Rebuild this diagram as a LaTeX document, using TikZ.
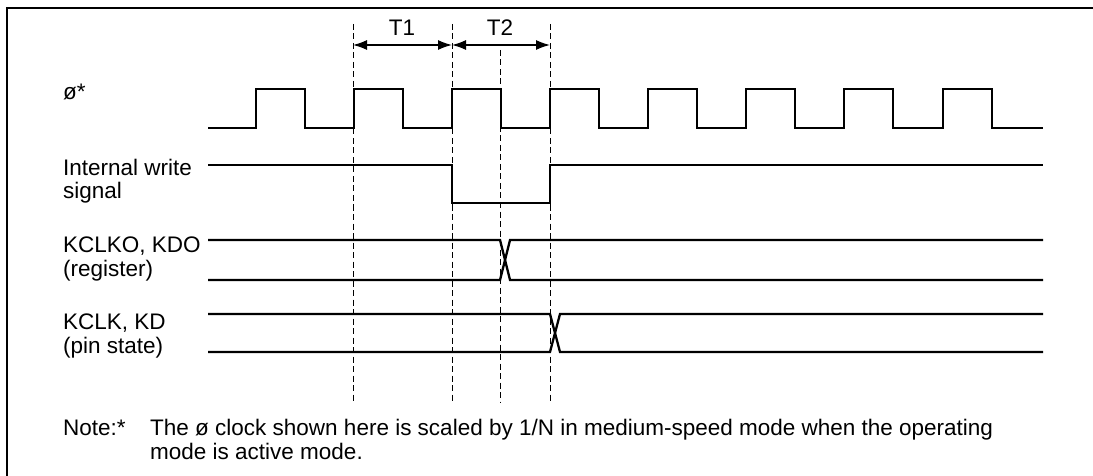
\documentclass[tikz,border=0pt]{standalone}
\usepackage{fontspec}
\setmainfont{Liberation Sans}
\usetikzlibrary{arrows.meta}
\tikzset{
  sig/.style={line width=2.3pt, line join=miter},
  guide/.style={line width=1pt, dash pattern=on 6pt off 3.5pt},
  txt/.style={inner sep=0pt, font=\fontsize{22.5}{24}\selectfont},
  lbl/.style={txt, anchor=base west, align=left},
  dim/.style={line width=1.3pt, {Latex[length=14pt,width=10pt]}-{Latex[length=14pt,width=10pt]}},
}
\begin{document}
\begin{tikzpicture}[x=1pt,y=-1pt]
\useasboundingbox (0,0) rectangle (1093,476);
% frame (left and top visible)
\draw[line width=2pt] (7,476) -- (7,8.5) -- (1093,8.5);
% guides
\foreach \x/\n/\t in {353/a/24,452/b/24,500/c/50,550/d/24}{
  \coordinate (top\n) at (\x,\t);
  \coordinate (bot\n) at (\x,402);
  \draw[guide] (top\n) -- (bot\n);
}
% T1 T2
\coordinate (t1a) at (353,45); \coordinate (t1b) at (452,45); \coordinate (t2b) at (550,45);
\draw[dim] (t1a) -- (t1b);
\draw[dim] (t1b) -- (t2b);
\node[txt, anchor=base] (T1) at (402,36) {T1};
\node[txt, anchor=base] (T2) at (500,36) {T2};
% clock
\draw[sig] (208,128)
  \foreach \r in {256,354,452,550,648,746,844,943}{
    -- (\r,128) -- (\r,89) -- ({\r+49},89) -- ({\r+49},128)
  } -- (1043,128);
% internal write
\draw[sig] (208,165) -- (452,165) -- (452,203) -- (550,203) -- (550,165) -- (1043,165);
% KCLKO
\draw[sig] (208,240) -- (500,240) -- (510,280) -- (1043,280);
\draw[sig] (208,280) -- (500,280) -- (510,240) -- (1043,240);
% KCLK
\draw[sig] (208,314) -- (550,314) -- (560,352) -- (1043,352);
\draw[sig] (208,352) -- (550,352) -- (560,314) -- (1043,314);
% labels
\node[lbl] (l1) at (63,100) {ø*};
\node[lbl] (l2) at (63,199) {Internal write\\signal};
\node[lbl] (l3) at (63,276) {KCLKO, KDO\\(register)};
\node[lbl] (l4) at (63,353) {KCLK, KD\\(pin state)};
\node[lbl] (n0) at (63,435) {Note:*};
\node[lbl] (n1) at (150,459) {The ø clock shown here is scaled by 1/N in medium-speed mode when the operating\\mode is active mode.};
\end{tikzpicture}
\end{document}
